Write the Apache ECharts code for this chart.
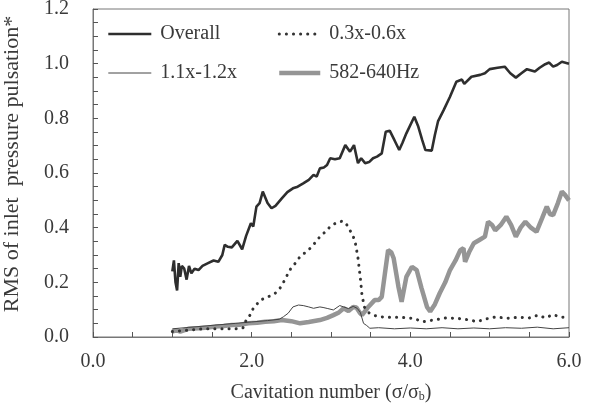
<!DOCTYPE html>
<html>
<head>
<meta charset="utf-8">
<script src="https://cdn.jsdelivr.net/npm/echarts@6/dist/echarts.min.js"></script>
<style>
  html, body { margin: 0; padding: 0; background: #fff; }
  #chart { width: 592px; height: 413px; }
</style>
</head>
<body>
<div id="chart"></div>
<script>
// Overall
const overallX = [1.00,1.02,1.04,1.06,1.08,1.10,1.12,1.15,1.18,1.21,1.24,1.28,1.33,1.38,1.45,1.52,1.58,1.63,1.66,1.70,1.75,1.82,1.88,1.93,1.99,2.02,2.06,2.10,2.14,2.20,2.25,2.30,2.38,2.45,2.52,2.58,2.65,2.72,2.78,2.82,2.86,2.91,2.95,2.99,3.05,3.11,3.18,3.24,3.29,3.34,3.38,3.43,3.48,3.53,3.58,3.64,3.69,3.74,3.80,3.86,3.90,3.95,4.05,4.10,4.15,4.19,4.27,4.31,4.35,4.42,4.50,4.58,4.65,4.68,4.77,4.88,4.94,5.00,5.10,5.19,5.26,5.33,5.40,5.47,5.57,5.63,5.70,5.75,5.80,5.85,5.91,6.00]
const overallY = [0.24,0.28,0.20,0.17,0.27,0.22,0.26,0.25,0.21,0.26,0.233,0.25,0.245,0.26,0.27,0.28,0.275,0.30,0.337,0.33,0.328,0.352,0.321,0.37,0.416,0.404,0.477,0.49,0.532,0.49,0.471,0.48,0.507,0.53,0.544,0.55,0.562,0.575,0.593,0.587,0.617,0.62,0.629,0.654,0.65,0.654,0.702,0.678,0.702,0.636,0.654,0.636,0.64,0.654,0.66,0.672,0.751,0.755,0.72,0.684,0.71,0.745,0.806,0.77,0.72,0.684,0.682,0.74,0.79,0.83,0.879,0.934,0.942,0.926,0.952,0.959,0.965,0.98,0.985,0.989,0.965,0.949,0.965,0.98,0.971,0.985,0.998,1.004,0.989,0.995,1.007,1.00]

// 0.3x-0.6x
const lowX = [1.00,1.20,1.40,1.60,1.80,1.89,1.94,1.98,2.02,2.11,2.19,2.29,2.36,2.42,2.48,2.55,2.61,2.68,2.74,2.80,2.86,2.93,2.99,3.05,3.11,3.15,3.19,3.24,3.30,3.34,3.37,3.39,3.42,3.47,3.53,3.62,3.74,3.87,4.04,4.16,4.29,4.45,4.60,4.75,4.84,4.95,5.09,5.20,5.35,5.50,5.61,5.70,5.80,5.90,6.00]
const lowY = [0.02,0.025,0.03,0.03,0.03,0.033,0.068,0.08,0.105,0.135,0.145,0.158,0.18,0.21,0.245,0.27,0.294,0.31,0.325,0.345,0.367,0.385,0.404,0.415,0.422,0.424,0.415,0.39,0.355,0.29,0.215,0.155,0.11,0.09,0.08,0.074,0.072,0.072,0.068,0.056,0.062,0.07,0.068,0.062,0.056,0.066,0.074,0.068,0.072,0.07,0.08,0.07,0.082,0.072,0.074]

// 1.1x-1.2x
const midX = [1.0,1.2,1.4,1.6,1.8,2.0,2.2,2.35,2.40,2.46,2.52,2.59,2.65,2.72,2.78,2.86,2.90,2.96,3.03,3.11,3.16,3.22,3.28,3.33,3.37,3.41,3.45,3.49,3.6,3.8,4.0,4.2,4.4,4.6,4.8,5.0,5.2,5.4,5.6,5.8,6.0]
const midY = [0.03,0.035,0.04,0.045,0.05,0.055,0.06,0.065,0.074,0.087,0.11,0.117,0.115,0.11,0.105,0.11,0.108,0.104,0.099,0.115,0.11,0.104,0.112,0.105,0.09,0.05,0.042,0.032,0.034,0.03,0.033,0.03,0.034,0.03,0.033,0.03,0.034,0.032,0.036,0.03,0.034]

// 582-640Hz
const hzX = [1.0,1.05,1.1,1.2,1.33,1.45,1.54,1.65,1.75,1.85,1.96,2.07,2.17,2.28,2.38,2.5,2.61,2.72,2.86,2.95,3.03,3.1,3.16,3.22,3.28,3.32,3.36,3.39,3.43,3.47,3.55,3.6,3.64,3.68,3.72,3.76,3.79,3.85,3.89,3.95,4.02,4.08,4.14,4.21,4.25,4.31,4.37,4.44,4.50,4.57,4.63,4.67,4.69,4.74,4.80,4.87,4.94,4.98,5.03,5.07,5.14,5.21,5.27,5.33,5.39,5.45,5.52,5.59,5.66,5.72,5.76,5.80,5.86,5.91,5.95,6.0]
const hzY = [0.02,0.025,0.02,0.03,0.032,0.035,0.038,0.04,0.044,0.045,0.05,0.052,0.056,0.058,0.062,0.058,0.05,0.055,0.062,0.07,0.08,0.09,0.105,0.095,0.11,0.108,0.09,0.08,0.095,0.11,0.135,0.135,0.147,0.233,0.318,0.31,0.288,0.184,0.129,0.22,0.257,0.245,0.18,0.11,0.093,0.12,0.16,0.2,0.245,0.28,0.318,0.325,0.275,0.31,0.343,0.355,0.367,0.422,0.41,0.39,0.41,0.44,0.41,0.367,0.40,0.422,0.40,0.385,0.434,0.477,0.45,0.446,0.49,0.532,0.52,0.50]

const xTicks = [0, 6, 2]   // min, max, label step
const yTicks = [0, 1.2, 0.2]

const pair = (xs, ys) => xs.map((x, i) => [x, ys[i]])

const font = 'Liberation Serif, Times New Roman, serif'
const txt = '#3a3a3a'

const chart = echarts.init(document.getElementById('chart'))

const legendBase = {
  top: 24, orient: 'vertical', padding: 0,
  itemHeight: 14, itemGap: 19,
  itemStyle: { opacity: 0 },
  lineStyle: { width: 'inherit' },
  textStyle: { fontFamily: font, fontSize: 20, color: txt, padding: [0, 0, 0, 4] }
}

const option = {
  animation: false,
  grid: {
    left: 93, right: 23, top: 9, bottom: 76,
    outerBoundsMode: 'none', containLabel: false,
    show: true, borderColor: '#777', borderWidth: 1
  },
  legend: [
    Object.assign({}, legendBase, { left: 107, itemWidth: 43, data: ['Overall', '1.1x-1.2x'] }),
    Object.assign({}, legendBase, { left: 277, itemWidth: 41, data: ['0.3x-0.6x', '582-640Hz'] })
  ],
  xAxis: {
    type: 'value', min: xTicks[0], max: xTicks[1], interval: xTicks[2],
    axisLine: { lineStyle: { color: '#777' } },
    axisTick: { inside: true, length: 5, lineStyle: { color: '#555' } },
    minorTick: { show: true, splitNumber: 4, length: 5, lineStyle: { color: '#555' } },
    splitLine: { show: false },
    axisLabel: { margin: 15, fontFamily: font, fontSize: 20, color: txt, formatter: v => v.toFixed(1) },
    name: '{a|Cavitation number (σ/σ}{s|b}{a|)}',
    nameLocation: 'middle', nameGap: 46,
    nameTextStyle: {
      rich: {
        a: { fontFamily: font, fontSize: 20, color: txt },
        s: { fontFamily: font, fontSize: 12, color: txt, verticalAlign: 'bottom', padding: [8, 0, 0, 0] }
      }
    }
  },
  yAxis: {
    type: 'value', min: yTicks[0], max: yTicks[1], interval: yTicks[2],
    axisLine: { show: true, lineStyle: { color: '#777' } },
    axisTick: { show: true, inside: true, length: 5, lineStyle: { color: '#555' } },
    minorTick: { show: true, splitNumber: 4, length: 5, lineStyle: { color: '#555' } },
    splitLine: { show: false },
    axisLabel: { margin: 24, fontFamily: font, fontSize: 20, color: txt, formatter: v => v.toFixed(1) },
    name: 'RMS of inlet  pressure pulsation*',
    nameLocation: 'middle', nameGap: 70,
    nameTextStyle: { fontFamily: font, fontSize: 22, color: txt, padding: [0, 0, 0, 18] }
  },
  series: [
    {
      name: '582-640Hz', type: 'line', showSymbol: false, symbol: 'none',
      color: '#959595',
      lineStyle: { width: 4.5, color: '#959595' },
      data: pair(hzX, hzY)
    },
    {
      name: '1.1x-1.2x', type: 'line', showSymbol: false, symbol: 'none',
      color: '#444',
      lineStyle: { width: 1, color: '#444' },
      data: pair(midX, midY)
    },
    {
      name: '0.3x-0.6x', type: 'line', showSymbol: false, symbol: 'none',
      color: '#333',
      lineStyle: { width: 3, color: '#333', type: [0.1, 7], cap: 'round' },
      data: pair(lowX, lowY)
    },
    {
      name: 'Overall', type: 'line', showSymbol: false, symbol: 'none',
      color: '#2e2e2e',
      lineStyle: { width: 2.6, color: '#2e2e2e' },
      data: pair(overallX, overallY)
    }
  ]
}

chart.setOption(option)
</script>
</body>
</html>
